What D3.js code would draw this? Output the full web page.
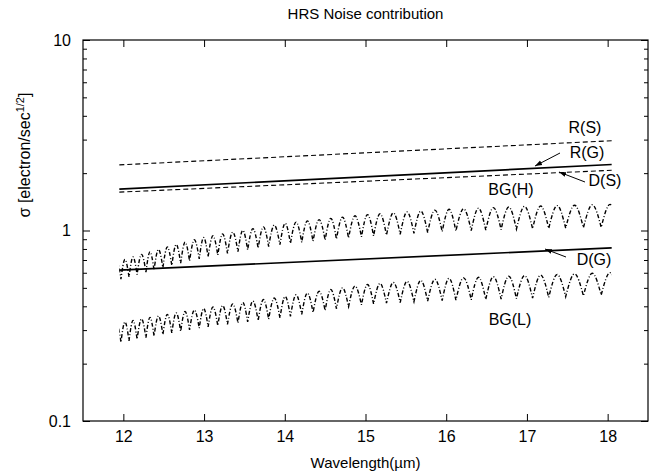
<!DOCTYPE html>
<html><head><meta charset="utf-8">
<script src="https://cdn.jsdelivr.net/npm/d3@7"></script>
<style>
body{margin:0;background:#fff;}
text{font-family:"Liberation Sans",Arial,Helvetica,sans-serif;fill:#000;}
</style></head>
<body><svg id="c" width="660" height="475"></svg>
<script>
// ---- data ----
const title = "HRS Noise contribution";
const xTicks = [12, 13, 14, 15, 16, 17, 18];
const yTicks = [0.1, 1, 10];
const yTickLabels = ["0.1", "1", "10"];
const yMinor = [0.2,0.3,0.4,0.5,0.6,0.7,0.8,0.9,2,3,4,5,6,7,8,9];

// straight components (wavelength at ends)
const lineWl = [11.95, 18.05];
const RS = [2.21, 2.96];
const RG = [1.65, 2.22];
const DS = [1.59, 2.07];
const DG = [0.62, 0.81];

// oscillating background: envelope read at these wavelengths
const envWl   = [12, 13, 14, 15, 16, 17, 18];
const BGH_peak   = [0.70, 0.92, 1.09, 1.21, 1.29, 1.34, 1.37];
const BGH_trough = [0.56, 0.72, 0.85, 0.93, 0.99, 1.02, 1.04];
const BGL_peak   = [0.33, 0.39, 0.45, 0.52, 0.56, 0.58, 0.60];
const BGL_trough = [0.26, 0.31, 0.35, 0.41, 0.43, 0.44, 0.46];
// wavelengths of fringe minima
const troughWl = [11.87, 11.97, 12.07, 12.17, 12.28, 12.38, 12.49, 12.60, 12.71, 12.82, 12.94,
  13.05, 13.17, 13.29, 13.42, 13.54, 13.67, 13.80, 13.94, 14.07, 14.21, 14.35, 14.50,
  14.64, 14.79, 14.95, 15.10, 15.26, 15.43, 15.60, 15.77, 15.95, 16.12, 16.31, 16.49,
  16.68, 16.87, 17.07, 17.27, 17.48, 17.70, 17.92, 18.14];

// ---- layout ----
const svg = d3.select("#c");
const L = 83, R = 648, T = 40, B = 421;
const x = d3.scaleLinear().domain([11.5, 18.5]).range([L, R]);
const y = d3.scaleLog().domain([0.1, 10]).range([B, T]);

svg.append("defs").append("clipPath").attr("id","clipw")
  .append("rect").attr("x", x(11.95)).attr("y", T).attr("width", x(18.05)-x(11.95)).attr("height", B-T);

// axes
function styleAxis(g){ g.select(".domain").remove(); g.selectAll("line").attr("stroke","#000").attr("stroke-width",1); g.selectAll("text").style("font-size","16px").attr("fill","#000"); }
svg.append("g").attr("transform",`translate(0,${B})`)
  .call(d3.axisBottom(x).tickValues(xTicks).tickFormat(d3.format("d")).tickSizeInner(-7).tickSizeOuter(0).tickPadding(10))
  .call(styleAxis);
svg.append("g").attr("transform",`translate(0,${T})`)
  .call(d3.axisTop(x).tickValues(xTicks).tickFormat("").tickSizeInner(-7).tickSizeOuter(0))
  .call(styleAxis);
svg.append("g").attr("transform",`translate(${L},0)`)
  .call(d3.axisLeft(y).tickValues(yTicks).tickFormat((d,i)=>yTickLabels[i]).tickSizeInner(-7).tickSizeOuter(0).tickPadding(12))
  .call(styleAxis);
svg.append("g").attr("transform",`translate(${L},0)`)
  .call(d3.axisLeft(y).tickValues(yMinor).tickFormat("").tickSizeInner(-4).tickSizeOuter(0))
  .call(styleAxis);
svg.append("g").attr("transform",`translate(${R},0)`)
  .call(d3.axisRight(y).tickValues(yTicks).tickFormat("").tickSizeInner(-7).tickSizeOuter(0))
  .call(styleAxis);
svg.append("g").attr("transform",`translate(${R},0)`)
  .call(d3.axisRight(y).tickValues(yMinor).tickFormat("").tickSizeInner(-4).tickSizeOuter(0))
  .call(styleAxis);

svg.append("rect").attr("x",L).attr("y",T).attr("width",R-L).attr("height",B-T)
  .attr("fill","none").attr("stroke","#000").attr("stroke-width",1.2);

// straight lines
const line = d3.line().x(d=>x(d[0])).y(d=>y(d[1]));
function straight(vals, dash, w){
  svg.append("path").attr("d", line(lineWl.map((w,i)=>[w, vals[i]])))
    .attr("fill","none").attr("stroke","#000").attr("stroke-width",w)
    .attr("stroke-dasharray", dash);
}
straight(RS, "5,3", 1.1);
straight(DS, "5,3", 1.1);
straight(RG, null, 1.7);
straight(DG, null, 1.7);

// oscillating
const arch = d3.line().x(d=>x(d[0])).y(d=>y(d[1])).curve(d3.curveMonotoneX);
function fringe(peakArr, troughArr){
  const pk = d3.scaleLinear().domain(envWl).range(peakArr);
  const tr = d3.scaleLinear().domain(envWl).range(troughArr);
  let d = "";
  for (let i=0;i<troughWl.length-1;i++){
    const a = troughWl[i], b = troughWl[i+1], m = (a+b)/2;
    let s = arch([[a, tr(a)], [m, pk(m)], [b, tr(b)]]);
    if (i>0) s = "L" + s.slice(1);
    d += s;
  }
  svg.append("path").attr("d", d).attr("clip-path","url(#clipw)")
    .attr("fill","none").attr("stroke","#000").attr("stroke-width",1.4)
    .attr("stroke-dasharray","4,2,1,2");
}
fringe(BGH_peak, BGH_trough);
fringe(BGL_peak, BGL_trough);

// labels
const labels = [
  {t:"R(S)", x:585, y:133},
  {t:"R(G)", x:587, y:158},
  {t:"D(S)", x:605, y:186},
  {t:"BG(H)", x:511, y:195},
  {t:"D(G)", x:594, y:265},
  {t:"BG(L)", x:510, y:325}
];
svg.selectAll("text.lab").data(labels).enter().append("text").attr("class","lab")
  .attr("x",d=>d.x).attr("y",d=>d.y).attr("text-anchor","middle").style("font-size","16px").text(d=>d.t);

// arrows
const defs = svg.select("defs");
defs.append("marker").attr("id","ah").attr("viewBox","0 0 10 10").attr("refX",10).attr("refY",5)
  .attr("markerWidth",7).attr("markerHeight",7).attr("orient","auto")
  .append("path").attr("d","M0,1.5L10,5L0,8.5z").attr("fill","#000");
const arrows = [
  {x1:560, y1:153, x2:535, y2:166},
  {x1:585, y1:182, x2:559, y2:172},
  {x1:566, y1:257, x2:545, y2:249}
];
svg.selectAll("line.arr").data(arrows).enter().append("line").attr("class","arr")
  .attr("x1",d=>d.x1).attr("y1",d=>d.y1).attr("x2",d=>d.x2).attr("y2",d=>d.y2)
  .attr("stroke","#000").attr("stroke-width",1).attr("marker-end","url(#ah)");

// titles
svg.append("text").attr("x",(L+R)/2).attr("y",19).attr("text-anchor","middle").style("font-size","15px").text(title);
svg.append("text").attr("x",(L+R)/2).attr("y",468).attr("text-anchor","middle").style("font-size","15px").text("Wavelength(µm)");
const yl = svg.append("text").attr("transform","translate(30,155) rotate(-90)").attr("text-anchor","middle").style("font-size","16px");
yl.append("tspan").text("σ [electron/sec");
yl.append("tspan").attr("dy",-6).style("font-size","11px").text("1/2");
yl.append("tspan").attr("dy",6).text("]");
</script></body></html>
